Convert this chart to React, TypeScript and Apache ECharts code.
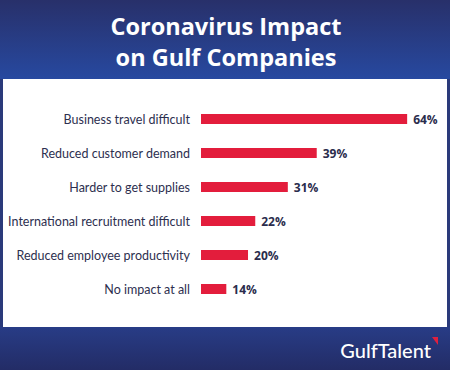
import React, { useEffect, useRef } from "react";
import * as echarts from "echarts";

const titleLines = ["Coronavirus Impact", "on Gulf Companies"];
const categories = [
  "Business travel difficult",
  "Reduced customer demand",
  "Harder to get supplies",
  "International recruitment difficult",
  "Reduced employee productivity",
  "No impact at all",
];
const values = [64, 39, 31, 22, 20, 14];
const brand = "GulfTalent";

export default function App() {
  const ref = useRef<HTMLDivElement>(null);
  useEffect(() => {
    if (!ref.current) return;
    const chart = echarts.init(ref.current, null, { renderer: "svg" });
    const font = "'Open Sans', 'Noto Sans', sans-serif";
    const labelFont = "Lato, 'Open Sans', sans-serif";
    chart.setOption({
      animation: false,
      backgroundColor: "#ffffff",
      grid: {
        left: 201,
        right: 32,
        top: 102,
        height: 204,
        containLabel: false,
        outerBoundsMode: "none",
      },
      xAxis: {
        type: "value",
        min: 7,
        max: 67,
        show: false,
      },
      yAxis: {
        type: "category",
        inverse: true,
        data: categories,
        axisLine: { show: false },
        axisTick: { show: false },
        splitLine: { show: false },
        axisLabel: {
          color: "#2d2f4f",
          fontSize: 12.5,
          fontFamily: labelFont,
          margin: 11,
        },
      },
      graphic: [
        {
          type: "rect",
          z: -10,
          silent: true,
          shape: { x: 0, y: 0, width: 450, height: 79 },
          style: {
            fill: new echarts.graphic.LinearGradient(0, 0, 0, 1, [
              { offset: 0, color: "#28306a" },
              { offset: 1, color: "#2749a0" },
            ]),
          },
        },
        {
          type: "rect",
          z: -10,
          silent: true,
          shape: { x: 0, y: 327, width: 450, height: 43 },
          style: {
            fill: new echarts.graphic.LinearGradient(0, 0, 0, 1, [
              { offset: 0, color: "#283c86" },
              { offset: 1, color: "#232c66" },
            ]),
          },
        },
        {
          type: "rect",
          z: -10,
          silent: true,
          shape: { x: 0, y: 79, width: 3, height: 248 },
          style: { fill: "#2a3a7a" },
        },
        {
          type: "rect",
          z: -10,
          silent: true,
          shape: { x: 447, y: 79, width: 3, height: 248 },
          style: { fill: "#2a3a7a" },
        },
        {
          type: "text",
          x: 226,
          y: 26,
          style: {
            text: titleLines[0],
            fill: "#ffffff",
            font: `bold 23.5px ${font}`,
            align: "center",
            verticalAlign: "middle",
          },
        },
        {
          type: "text",
          x: 226,
          y: 57,
          style: {
            text: titleLines[1],
            fill: "#ffffff",
            font: `bold 23.5px ${font}`,
            align: "center",
            verticalAlign: "middle",
          },
        },
        {
          type: "text",
          x: 431,
          y: 350,
          style: {
            text: brand,
            fill: "#ffffff",
            font: `500 20px ${labelFont}`,
            align: "right",
            verticalAlign: "middle",
          },
        },
        {
          type: "polygon",
          shape: { points: [[432, 337], [438, 337], [438, 345]] },
          style: { fill: "#e0203e" },
        },
      ],
      series: [
        {
          type: "bar",
          data: values,
          barWidth: 10,
          itemStyle: { color: "#e31d3c" },
          label: {
            show: true,
            position: "right",
            distance: 6,
            formatter: "{c}%",
            color: "#2a2c4c",
            fontWeight: "bold",
            fontSize: 12,
            fontFamily: font,
          },
        },
      ],
    });
    return () => chart.dispose();
  }, []);
  return (
    <div
      ref={ref}
      style={{ position: "absolute", left: 0, top: 0, width: 450, height: 370 }}
    />
  );
}
